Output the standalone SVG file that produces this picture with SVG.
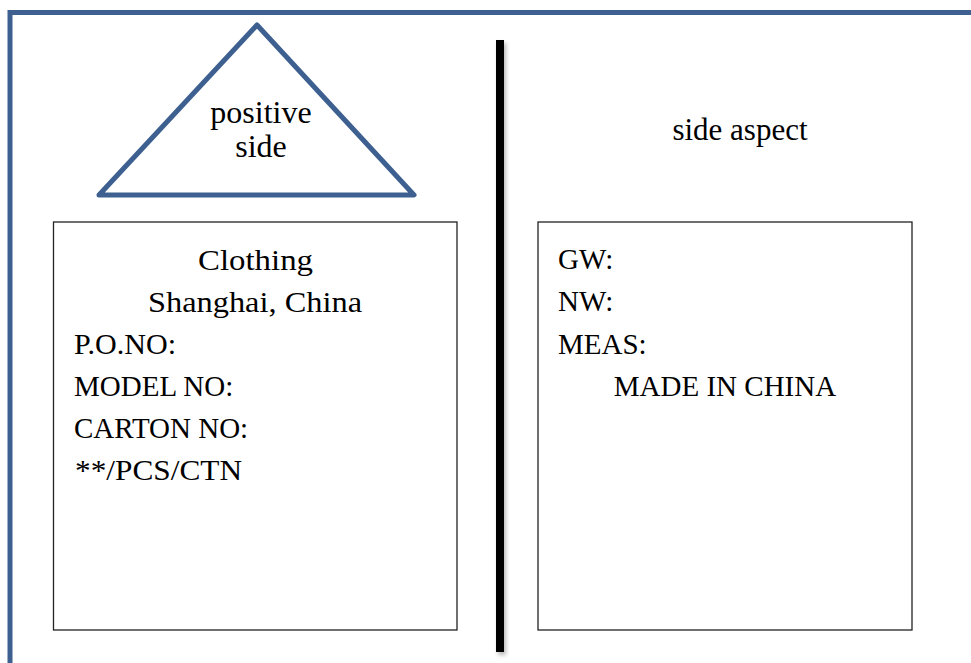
<svg xmlns="http://www.w3.org/2000/svg" width="971" height="663" viewBox="0 0 971 663">
<style>
.frame{fill:none;stroke:#3D6090;stroke-width:5}
.box{fill:#fff;stroke:#222;stroke-width:1.3}
.t{font-family:"Liberation Serif","Times New Roman",serif;fill:#000}
.c{font-size:29px}
.h{font-size:32px}
</style>
<defs>
<filter id="sh" x="-100%" y="-5%" width="300%" height="110%">
<feGaussianBlur stdDeviation="2"/>
</filter>
</defs>
<rect width="971" height="663" fill="#fff"/>
<path class="frame" d="M10,663 V12.5 H971"/>
<g id="divider">
<rect x="498" y="43" width="8" height="612" fill="#888" opacity="0.6" filter="url(#sh)"/>
<rect x="496" y="40" width="8" height="612" fill="#000"/>
</g>
<g id="positive-side">
<polygon class="frame" points="257,25 414,195 99,195" stroke-linejoin="round"/>
<text class="t h" x="261" y="123" text-anchor="middle">positive</text>
<text class="t h" x="261" y="157" text-anchor="middle">side</text>
</g>
<g id="side-aspect">
<text class="t" font-size="31" x="740" y="140" text-anchor="middle">side aspect</text>
</g>
<g id="front-label">
<rect class="box" x="53.5" y="222" width="403.5" height="408"/>
<text class="t c" x="198" y="270" textLength="115" lengthAdjust="spacingAndGlyphs">Clothing</text>
<text class="t c" x="148" y="312" textLength="214" lengthAdjust="spacingAndGlyphs">Shanghai, China</text>
<text class="t c" x="74" y="354" textLength="102" lengthAdjust="spacingAndGlyphs">P.O.NO:</text>
<text class="t c" x="74" y="396">MODEL NO:</text>
<text class="t c" x="74" y="438">CARTON NO:</text>
<text class="t c" x="75" y="480" textLength="167" lengthAdjust="spacingAndGlyphs">**/PCS/CTN</text>
</g>
<g id="side-label">
<rect class="box" x="538" y="222" width="374" height="408"/>
<text class="t c" x="558" y="269">GW:</text>
<text class="t c" x="558" y="311">NW:</text>
<text class="t c" x="558" y="354">MEAS:</text>
<text class="t c" x="725" y="396" text-anchor="middle">MADE IN CHINA</text>
</g>
<g id="connectors"/>
</svg>
